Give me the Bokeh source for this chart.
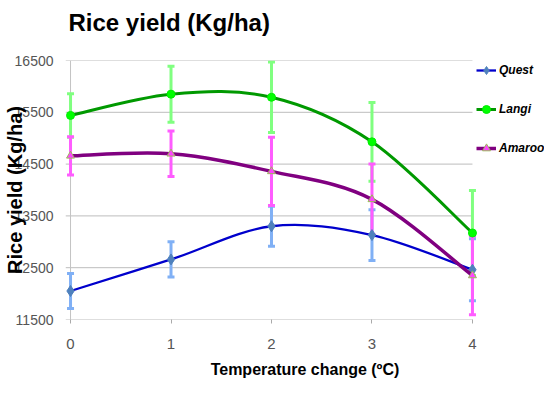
from bokeh.plotting import figure
from bokeh.models import (ColumnDataSource, Whisker, TeeHead, Legend, LegendItem,
                          FixedTicker, Span, Title)
from bokeh.embed import file_html
from bokeh.resources import INLINE

# ---- data ----
temps = [0, 1, 2, 3, 4]
quest = [12050, 12660, 13300, 13130, 12460]
quest_err = [340, 340, 385, 490, 600]
langi = [15440, 15850, 15790, 14930, 13170]
langi_err = [420, 540, 680, 760, 820]
amaroo = [14660, 14700, 14360, 13820, 12350]
amaroo_err = [370, 440, 660, 680, 760]
series_names = ["Quest", "Langi", "Amaroo"]
y_ticks = [11500, 12500, 13500, 14500, 15500, 16500]
x_ticks = [0, 1, 2, 3, 4]

title_text = "Rice yield (Kg/ha)"
x_label = "Temperature change (\u00baC)"
y_label = "Rice yield (Kg/ha)"

# layout constants (x range extends right to leave room for the legend)
X_START = -0.05
X_END = 4.717


def smooth_segments(xs, ys):
    """Bezier control points (Catmull-Rom style) for a smoothed line."""
    n = len(xs)
    out = dict(x0=[], y0=[], x1=[], y1=[], cx0=[], cy0=[], cx1=[], cy1=[])
    for i in range(n - 1):
        a = i - 1 if i > 0 else i
        d = i + 2 if i + 2 < n else i + 1
        out["x0"].append(xs[i]); out["y0"].append(ys[i])
        out["x1"].append(xs[i + 1]); out["y1"].append(ys[i + 1])
        out["cx0"].append(xs[i] + (xs[i + 1] - xs[a]) / 6.0)
        out["cy0"].append(ys[i] + (ys[i + 1] - ys[a]) / 6.0)
        out["cx1"].append(xs[i + 1] - (xs[d] - xs[i]) / 6.0)
        out["cy1"].append(ys[i + 1] - (ys[d] - ys[i]) / 6.0)
    return out


p = figure(width=544, height=383, title=None,
           x_range=(X_START, X_END), y_range=(y_ticks[0], y_ticks[-1]),
           output_backend="svg", toolbar_location=None,
           min_border_left=65, min_border_right=0,
           min_border_top=60, min_border_bottom=64)
p.outline_line_color = None
p.background_fill_color = "white"
p.border_fill_color = "white"

# spacer between the frame and the title, then the title itself
p.add_layout(Title(text=" ", text_font="Liberation Sans", text_font_size="21px",
                   standoff=0), "above")
p.add_layout(Title(text=title_text, text_font="Liberation Sans", text_font_size="24px",
                   text_font_style="bold", text_color="black", align="left",
                   offset=3, standoff=0), "above")

# grid: drawn as segments that stop at the last category
p.xgrid.grid_line_color = None
p.ygrid.grid_line_color = None
p.segment(x0=[X_START] * len(y_ticks), y0=y_ticks,
          x1=[temps[-1]] * len(y_ticks), y1=y_ticks,
          line_color="#bdbdbd", line_width=1, level="underlay")

# axes
tick_font = "Liberation Sans"
p.yaxis.ticker = FixedTicker(ticks=y_ticks)
p.yaxis.axis_line_color = None
p.yaxis.major_tick_line_color = None
p.yaxis.minor_tick_line_color = None
p.yaxis.major_label_text_font = tick_font
p.yaxis.major_label_text_font_size = "14px"
p.yaxis.major_label_text_color = "#555555"
p.yaxis.major_label_standoff = 6
p.yaxis.axis_label = y_label
p.yaxis.axis_label_text_font = "Liberation Sans"
p.yaxis.axis_label_text_font_size = "20px"
p.yaxis.axis_label_text_font_style = "bold"
p.yaxis.axis_label_text_color = "black"
p.yaxis.axis_label_standoff = -14

p.xaxis.ticker = FixedTicker(ticks=x_ticks)
p.xaxis.axis_line_color = None
p.xaxis.major_tick_line_color = "#aaaaaa"
p.xaxis.major_tick_out = 4
p.xaxis.major_tick_in = 0
p.xaxis.minor_tick_line_color = None
p.xaxis.major_label_text_font = tick_font
p.xaxis.major_label_text_font_size = "15px"
p.xaxis.major_label_text_color = "#555555"
p.xaxis.major_label_standoff = 15
p.xaxis.axis_label = x_label
p.xaxis.axis_label_text_font = "Liberation Sans"
p.xaxis.axis_label_text_font_size = "16px"
p.xaxis.axis_label_text_font_style = "bold"
p.xaxis.axis_label_text_color = "black"
p.xaxis.axis_label_standoff = 9

# vertical axis line at x = 0
p.add_layout(Span(location=x_ticks[0], dimension="height",
                  line_color="#c4c4c4", line_width=1, level="underlay"))

series = [
    (quest, quest_err, "#0000cc", 2.3, "diamond", 11, "#4f81bd", "#4f81bd", "#80b0f5"),
    (langi, langi_err, "#009900", 3, "circle", 8, "#00ff00", "#00ee00", "#80ff80"),
    (amaroo, amaroo_err, "#800080", 3.5, "triangle", 8, "#ff44ff", "#9bbb59", "#ff5cff"),
]

items = []
for (vals, errs, lcol, lw, mk, ms, mfill, mline, ecol), name in zip(series, series_names):
    src = ColumnDataSource(dict(x=temps, y=vals,
                                upper=[v + e for v, e in zip(vals, errs)],
                                lower=[v - e for v, e in zip(vals, errs)]))
    w = Whisker(source=src, base="x", upper="upper", lower="lower",
                line_color=ecol, line_width=3, level="underlay",
                upper_head=TeeHead(size=7, line_color=ecol, line_width=3),
                lower_head=TeeHead(size=7, line_color=ecol, line_width=3))
    p.add_layout(w)
    seg = smooth_segments(temps, vals)
    cr = p.bezier(source=ColumnDataSource(seg), x0="x0", y0="y0", x1="x1", y1="y1",
                  cx0="cx0", cy0="cy0", cx1="cx1", cy1="cy1",
                  line_color=lcol, line_width=lw)
    mr = p.scatter("x", "y", source=src, marker=mk, size=ms,
                   fill_color=mfill, line_color=mline, line_width=1)
    items.append(LegendItem(label=name, renderers=[cr, mr]))

legend = Legend(items=items, location=(411, 161), orientation="vertical",
                glyph_width=20, glyph_height=20, label_height=20, spacing=19,
                padding=0, margin=0, label_standoff=3,
                label_text_font="Liberation Sans", label_text_font_style="bold italic",
                label_text_font_size="12px", label_text_color="black",
                background_fill_alpha=0, border_line_alpha=0)
p.add_layout(legend)

open("out.html", "w").write(file_html(p, INLINE))
